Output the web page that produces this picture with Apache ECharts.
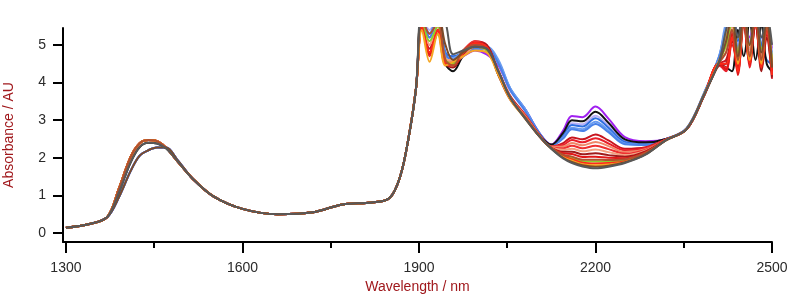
<!DOCTYPE html>
<html>
<head>
<meta charset="utf-8">
<script src="https://cdn.jsdelivr.net/npm/echarts@6/dist/echarts.min.js"></script>
<style>
  html, body { margin: 0; padding: 0; background: #fff; }
  #chart { width: 800px; height: 298px; }
</style>
</head>
<body>
<div id="chart"></div>
<script>
// ============================================================================
// Data
// ============================================================================

// wavelength grid, nm
const wlStart = [1300, 1340, 1370]
const wlPeak = [1390, 1410, 1425, 1440, 1455, 1470, 1490]
const wlMid = [1515, 1550, 1600, 1660, 1720, 1770, 1820, 1850, 1868, 1882, 1895]
const wlWater = [1905, 1918, 1932, 1945, 1958, 1975, 1995, 2015, 2035, 2055, 2080, 2105]
const wlBump = [2125, 2145, 2160, 2178, 2200, 2222, 2250, 2285, 2320]
const wlTail = [2355, 2385, 2410, 2422, 2432, 2442, 2452, 2462, 2472, 2482, 2491, 2500]

// absorbance segments shared by all spectra
const startValues = [0.14, 0.24, 0.42]
const midValues = [1.45, 0.98, 0.64, 0.5, 0.55, 0.76, 0.81, 0.93, 1.5, 2.5, 3.85]

// 1450 nm band, three shapes
const peakHigh = [1.18, 2.02, 2.38, 2.47, 2.44, 2.27, 1.9]
const peakMid = [1.08, 1.88, 2.28, 2.4, 2.38, 2.25, 1.9]
const peakLow = [0.95, 1.65, 2.05, 2.2, 2.27, 2.27, 1.93]

const seriesNames = ['purple', 'lavender', 'blue', 'lightblue', 'blue2', 'black', 'darkred', 'red', 'salmon',
  'red2', 'salmon2', 'darkred2', 'red3', 'green', 'red4', 'orange', 'brown', 'brown2', 'gray']
const seriesColors = ['#a020f0', '#b8b0f8', '#2f6fe0', '#6a9cf0', '#4a82e8', '#111111', '#c8141e', '#e8202a', '#f08868',
  '#ee3030', '#f4a080', '#a01a1a', '#e01818', '#8ad228', '#ff2a1a', '#f5a623', '#b05030', '#7b4b2a', '#585858']
const peakGroup = ['low', 'low', 'low', 'low', 'low', 'mid', 'high', 'high', 'high',
  'high', 'high', 'high', 'high', 'high', 'high', 'high', 'high', 'low', 'mid']

const waterValues = [
  [5.7, 5.2, 5.8, 4.75, 4.65, 4.7, 4.85, 4.75, 4.45, 3.8, 3.3, 2.65],
  [5.7, 5.4, 5.8, 4.7, 4.7, 4.75, 4.9, 4.85, 4.5, 3.8, 3.3, 2.65],
  [5.7, 5.3, 5.8, 4.8, 4.7, 4.8, 4.95, 4.9, 4.55, 3.85, 3.3, 2.65],
  [5.6, 5.3, 5.7, 4.7, 4.65, 4.8, 4.9, 4.95, 4.6, 3.85, 3.3, 2.62],
  [5.6, 5.2, 5.7, 4.75, 4.6, 4.75, 4.9, 4.9, 4.5, 3.8, 3.25, 2.62],
  [5.8, 5.5, 5.7, 4.5, 4.3, 4.7, 4.95, 4.9, 4.2, 3.6, 3.1, 2.6],
  [5.6, 4.9, 5.5, 4.6, 4.5, 4.8, 5.1, 5.0, 4.3, 3.65, 3.15, 2.6],
  [5.5, 4.8, 5.4, 4.55, 4.45, 4.75, 5.05, 4.95, 4.25, 3.6, 3.15, 2.6],
  [5.6, 5.0, 5.5, 4.65, 4.55, 4.7, 5.0, 4.9, 4.3, 3.6, 3.12, 2.58],
  [5.5, 4.7, 5.4, 4.5, 4.5, 4.85, 5.1, 4.95, 4.25, 3.58, 3.1, 2.58],
  [5.6, 5.0, 5.5, 4.6, 4.6, 4.7, 4.95, 4.85, 4.3, 3.6, 3.1, 2.58],
  [5.5, 4.8, 5.3, 4.5, 4.4, 4.8, 5.05, 5.0, 4.2, 3.55, 3.08, 2.57],
  [5.5, 4.75, 5.4, 4.55, 4.5, 4.75, 5.0, 4.95, 4.25, 3.58, 3.08, 2.57],
  [5.6, 5.1, 5.5, 4.6, 4.5, 4.8, 4.95, 4.85, 4.3, 3.6, 3.08, 2.57],
  [5.5, 4.8, 5.4, 4.5, 4.45, 4.8, 5.05, 4.95, 4.25, 3.58, 3.07, 2.56],
  [5.4, 4.55, 5.3, 4.45, 4.55, 4.7, 4.85, 4.8, 4.2, 3.55, 3.05, 2.56],
  [5.7, 5.3, 5.6, 4.6, 4.45, 4.85, 5.0, 4.9, 4.3, 3.6, 3.08, 2.57],
  [5.8, 5.6, 5.8, 5.0, 4.6, 4.8, 4.95, 4.9, 4.3, 3.6, 3.06, 2.56],
  [5.9, 5.8, 5.9, 5.6, 4.75, 4.85, 4.95, 4.9, 4.3, 3.6, 3.05, 2.56],
]

const bumpValues = [
  [2.35, 2.72, 3.11, 3.08, 3.36, 3.04, 2.55, 2.44, 2.5],
  [2.34, 2.61, 2.92, 2.89, 3.12, 2.85, 2.45, 2.39, 2.5],
  [2.33, 2.58, 2.87, 2.83, 3.05, 2.8, 2.42, 2.37, 2.5],
  [2.33, 2.54, 2.8, 2.76, 2.96, 2.73, 2.38, 2.35, 2.49],
  [2.32, 2.51, 2.76, 2.71, 2.9, 2.68, 2.36, 2.34, 2.49],
  [2.35, 2.66, 3.0, 2.97, 3.22, 2.93, 2.49, 2.41, 2.5],
  [2.3, 2.39, 2.54, 2.49, 2.62, 2.46, 2.24, 2.28, 2.49],
  [2.3, 2.34, 2.47, 2.41, 2.52, 2.38, 2.2, 2.26, 2.49],
  [2.29, 2.3, 2.39, 2.33, 2.42, 2.31, 2.15, 2.23, 2.48],
  [2.28, 2.25, 2.32, 2.25, 2.32, 2.23, 2.11, 2.21, 2.48],
  [2.28, 2.21, 2.24, 2.17, 2.22, 2.15, 2.07, 2.19, 2.48],
  [2.27, 2.16, 2.16, 2.09, 2.12, 2.07, 2.03, 2.17, 2.48],
  [2.26, 2.12, 2.1, 2.02, 2.03, 2.0, 1.99, 2.15, 2.48],
  [2.25, 2.06, 2.0, 1.91, 1.9, 1.9, 1.94, 2.12, 2.47],
  [2.25, 2.04, 1.96, 1.87, 1.85, 1.86, 1.91, 2.11, 2.47],
  [2.25, 2.02, 1.92, 1.83, 1.8, 1.82, 1.89, 2.1, 2.47],
  [2.26, 2.08, 2.03, 1.95, 1.95, 1.94, 1.96, 2.13, 2.47],
  [2.24, 2.0, 1.89, 1.8, 1.76, 1.79, 1.88, 2.09, 2.47],
  [2.24, 1.98, 1.86, 1.77, 1.72, 1.76, 1.86, 2.08, 2.47],
]

const tailValues = [
  [2.78, 3.72, 4.62, 5.0, 5.6, 4.9, 5.8, 5.2, 5.7, 5.0, 5.6, 4.9],
  [2.78, 3.72, 4.66, 5.3, 5.7, 5.0, 5.8, 5.1, 5.9, 5.2, 5.6, 4.8],
  [2.79, 3.74, 4.7, 5.5, 5.9, 5.1, 5.8, 4.9, 5.7, 5.0, 4.6, 4.5],
  [2.78, 3.73, 4.68, 5.6, 5.8, 5.3, 5.9, 5.0, 5.8, 5.2, 5.5, 4.6],
  [2.78, 3.72, 4.66, 5.2, 5.6, 4.95, 5.7, 5.0, 5.6, 4.9, 5.4, 4.7],
  [2.76, 3.66, 4.5, 4.4, 4.3, 5.4, 4.7, 5.6, 4.6, 5.5, 4.5, 4.3],
  [2.76, 3.68, 4.5, 4.6, 5.2, 4.4, 5.6, 4.6, 5.5, 4.5, 5.3, 4.1],
  [2.76, 3.68, 4.45, 4.3, 5.4, 4.5, 5.7, 4.4, 6.0, 4.6, 5.7, 4.3],
  [2.77, 3.7, 4.56, 4.8, 5.5, 4.7, 5.8, 4.8, 5.8, 4.7, 5.5, 4.5],
  [2.76, 3.68, 4.48, 4.4, 5.0, 4.6, 5.9, 4.7, 5.5, 4.4, 5.6, 4.3],
  [2.77, 3.7, 4.56, 5.0, 5.6, 4.8, 5.7, 4.9, 5.9, 4.8, 5.4, 4.6],
  [2.76, 3.67, 4.46, 4.5, 5.1, 4.3, 5.5, 4.5, 5.6, 4.3, 5.2, 4.15],
  [2.76, 3.68, 4.5, 4.35, 5.3, 4.2, 5.8, 4.6, 5.7, 4.5, 5.6, 4.3],
  [2.77, 3.7, 4.56, 5.0, 5.6, 4.8, 5.8, 5.0, 5.7, 4.9, 5.5, 4.6],
  [2.76, 3.68, 4.5, 4.5, 5.2, 4.3, 5.6, 4.5, 5.9, 4.4, 5.4, 4.2],
  [2.77, 3.7, 4.58, 5.2, 5.7, 4.5, 5.9, 4.6, 6.0, 4.5, 5.6, 4.5],
  [2.76, 3.68, 4.52, 4.8, 5.4, 4.6, 5.6, 4.7, 5.8, 4.6, 5.5, 4.4],
  [2.76, 3.69, 4.54, 5.1, 5.8, 4.7, 5.9, 5.0, 5.9, 4.8, 5.7, 4.4],
  [2.77, 3.7, 4.56, 5.4, 5.9, 5.2, 6.0, 5.5, 6.0, 5.2, 5.8, 5.0],
]

const xLabelTicks = [1300, 1600, 1900, 2200, 2500]
const xMinorTicks = [1450, 1750, 2050, 2350]
const yLabelTicks = [0, 1, 2, 3, 4, 5]

// ============================================================================
// Helpers
// ============================================================================

const _nameColor = '#a0181c'
const _labelColor = '#2a2a2a'
const _font = 'Liberation Sans, Arial, sans-serif'
const _peaks = {high: peakHigh, mid: peakMid, low: peakLow}
const _wavelengths = [...wlStart, ...wlPeak, ...wlMid, ...wlWater, ...wlBump, ...wlTail]

function buildSeries(idx) {
    const values = [
        ...startValues,
        ..._peaks[peakGroup[idx]],
        ...midValues,
        ...waterValues[idx],
        ...bumpValues[idx],
        ...tailValues[idx],
    ]
    return {
        name: seriesNames[idx],
        type: 'line',
        xAxisIndex: 0,
        showSymbol: false,
        symbol: 'none',
        smooth: 0.35,
        clip: true,
        lineStyle: {width: 2, color: seriesColors[idx]},
        itemStyle: {color: seriesColors[idx]},
        data: _wavelengths.map((w, i) => [w, values[i]]),
    }
}

// ============================================================================
// Entrypoint
// ============================================================================

const chart = echarts.init(document.getElementById('chart'), null, {renderer: 'canvas'})
const option = {
    animation: false,
    backgroundColor: '#fff',
    grid: {left: 63, right: 28, top: 28, bottom: 56, outerBoundsMode: 'none', containLabel: false},
    xAxis: [
        {
            type: 'value',
            min: 1295,
            max: 2500,
            position: 'bottom',
            name: 'Wavelength / nm',
            nameLocation: 'middle',
            nameGap: 38,
            nameTextStyle: {color: _nameColor, fontSize: 14, fontFamily: _font},
            axisLine: {onZero: false, lineStyle: {color: '#000', width: 2}},
            axisTick: {customValues: xLabelTicks, length: 11, lineStyle: {color: '#000', width: 2}},
            axisLabel: {
                customValues: xLabelTicks, margin: 19, fontSize: 14, color: _labelColor, fontFamily: _font,
                formatter: v => String(v),
            },
            splitLine: {show: false},
        },
        {
            type: 'value',
            min: 1295,
            max: 2500,
            position: 'bottom',
            axisLine: {show: false, onZero: false},
            axisTick: {customValues: xMinorTicks, length: 6, lineStyle: {color: '#000', width: 2}},
            axisLabel: {show: false},
            splitLine: {show: false},
        },
    ],
    yAxis: {
        type: 'value',
        min: -0.24,
        max: 5.45,
        name: 'Absorbance / AU',
        nameLocation: 'middle',
        nameGap: 47,
        nameTextStyle: {color: _nameColor, fontSize: 14, fontFamily: _font},
        axisLine: {show: true, onZero: false, lineStyle: {color: '#000', width: 2}},
        axisTick: {show: true, customValues: yLabelTicks, length: 10, lineStyle: {color: '#000', width: 2}},
        axisLabel: {customValues: yLabelTicks, margin: 17, fontSize: 14, color: _labelColor, fontFamily: _font},
        splitLine: {show: false},
    },
    series: seriesNames.map((_, i) => buildSeries(i)),
}
chart.setOption(option)
</script>
</body>
</html>
